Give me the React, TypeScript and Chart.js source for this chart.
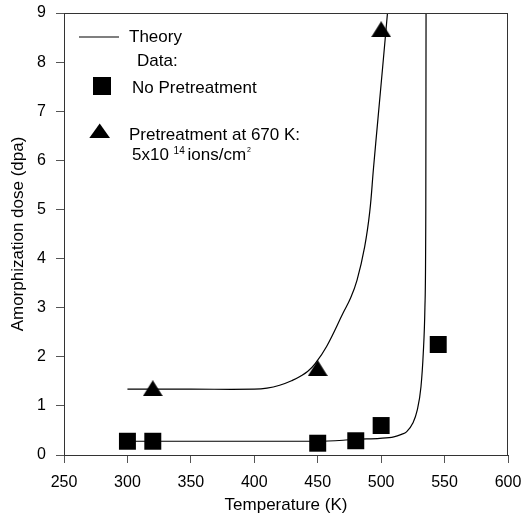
import React, { useEffect, useRef } from "react";
import { Chart, registerables } from "chart.js";

Chart.register(...registerables);

// ---- data ----
const xTickValues = [250, 300, 350, 400, 450, 500, 550, 600];
const yTickValues = [0, 1, 2, 3, 4, 5, 6, 7, 8, 9];

const noPretreatTemp = [300, 320, 450, 480, 500, 545];
const noPretreatDose = [0.28, 0.28, 0.24, 0.29, 0.6, 2.25];

const pretreatTemp = [320, 450, 500];
const pretreatDose = [1.36, 1.77, 8.67];

const theoryPreTemp = [300, 350, 400, 410, 420, 430, 436, 442, 448, 457, 470, 476, 481, 487, 491, 494, 497.5, 501.2, 505];
const theoryPreDose = [1.34, 1.34, 1.34, 1.36, 1.42, 1.52, 1.6, 1.7, 1.86, 2.21, 2.89, 3.2, 3.56, 4.24, 4.95, 5.85, 6.85, 7.9, 9.0];

const theoryNoPreTemp = [300, 350, 400, 450, 470, 480, 499, 510, 516, 520, 525, 528.5, 531.4, 533.2, 534.5, 535.2, 535.4];
const theoryNoPreDose = [0.28, 0.28, 0.28, 0.28, 0.3, 0.32, 0.34, 0.37, 0.42, 0.47, 0.65, 0.92, 1.39, 2.07, 3.0, 5.0, 9.0];

const legendLabels = ["Theory", "Data:", "No Pretreatment", "Pretreatment at 670 K:", "5x10", "14", "ions/cm", "2"];

const FONT = '"Liberation Sans", Arial, Helvetica, sans-serif';

function makeTriangle(w: number, h: number): HTMLCanvasElement {
  const c = document.createElement("canvas");
  c.width = w;
  c.height = h;
  const g = c.getContext("2d")!;
  g.fillStyle = "#000";
  g.beginPath();
  g.moveTo(w / 2, 0);
  g.lineTo(w, h);
  g.lineTo(0, h);
  g.closePath();
  g.fill();
  return c;
}

const toPts = (xs: number[], ys: number[]) => xs.map((x, i) => ({ x, y: ys[i] }));

const frameAndLegend = {
  id: "frameAndLegend",
  afterDraw(chart: any) {
    const { ctx, chartArea } = chart;
    const { left, top, right, bottom } = chartArea;
    ctx.save();
    // frame
    ctx.strokeStyle = "#333";
    ctx.lineWidth = 1;
    ctx.strokeRect(left + 0.5, top + 0.5, right - left - 1, bottom - top);

    // legend
    const L = left;
    const T = top;
    ctx.strokeStyle = "#000";
    ctx.lineWidth = 1.2;
    ctx.beginPath();
    ctx.moveTo(L + 15, T + 24);
    ctx.lineTo(L + 55, T + 24);
    ctx.stroke();

    ctx.fillStyle = "#000";
    ctx.textAlign = "left";
    ctx.textBaseline = "alphabetic";
    ctx.font = `17px ${FONT}`;
    ctx.fillText(legendLabels[0], L + 65, T + 29);
    ctx.fillText(legendLabels[1], L + 73, T + 53);
    // square marker
    ctx.fillRect(L + 29, T + 64, 18, 18);
    ctx.fillText(legendLabels[2], L + 68, T + 79.5);
    // triangle marker
    ctx.beginPath();
    ctx.moveTo(L + 35.7, T + 110.5);
    ctx.lineTo(L + 46, T + 125);
    ctx.lineTo(L + 25.3, T + 125);
    ctx.closePath();
    ctx.fill();
    ctx.fillText(legendLabels[3], L + 65, T + 126.5);
    ctx.fillText(legendLabels[4], L + 68, T + 146.5);
    const w5 = ctx.measureText(legendLabels[4] + " ").width;
    ctx.font = `10px ${FONT}`;
    ctx.fillText(legendLabels[5], L + 68 + w5, T + 141);
    const w14 = ctx.measureText(legendLabels[5] + " ").width;
    ctx.font = `17px ${FONT}`;
    ctx.fillText(legendLabels[6], L + 68 + w5 + w14, T + 146.5);
    const wi = ctx.measureText(legendLabels[6]).width;
    ctx.font = `7px ${FONT}`;
    ctx.fillText(legendLabels[7], L + 68 + w5 + w14 + wi + 1, T + 139);
    ctx.restore();
  },
};

export default function App() {
  const ref = useRef<HTMLCanvasElement | null>(null);

  useEffect(() => {
    document.body.style.margin = "0";
    const tri = makeTriangle(20, 16);
    const chart = new Chart(ref.current!, {
      type: "scatter",
      data: {
        datasets: [
          {
            label: "Pretreatment at 670 K",
            data: toPts(pretreatTemp, pretreatDose),
            pointStyle: tri as any,
            pointRadius: 10,
            backgroundColor: "#000",
            borderColor: "#000",
            showLine: false,
          },
          {
            label: "No Pretreatment",
            data: toPts(noPretreatTemp, noPretreatDose),
            pointStyle: "rect",
            pointRadius: 12,
            pointBorderWidth: 0,
            backgroundColor: "#000",
            borderColor: "#000",
            showLine: false,
          },
          {
            label: "Theory (pretreated)",
            data: toPts(theoryPreTemp, theoryPreDose),
            showLine: true,
            pointRadius: 0,
            borderColor: "#000",
            borderWidth: 1.2,
            tension: 0.4,
          },
          {
            label: "Theory (no pretreatment)",
            data: toPts(theoryNoPreTemp, theoryNoPreDose),
            showLine: true,
            pointRadius: 0,
            borderColor: "#000",
            borderWidth: 1.2,
            cubicInterpolationMode: "monotone",
          },
        ],
      },
      options: {
        animation: false,
        responsive: true,
        maintainAspectRatio: false,
        layout: { padding: { left: 0, right: 15, top: 13, bottom: 0 } },
        plugins: {
          legend: { display: false },
          tooltip: { enabled: false },
        },
        scales: {
          x: {
            type: "linear",
            min: 250,
            max: 600,
            afterBuildTicks: (s: any) => {
              s.ticks = xTickValues.map((v) => ({ value: v }));
            },
            afterFit: (s: any) => {
              s.height = 68;
              s.paddingLeft = 0;
              s.paddingRight = 0;
            },
            grid: {
              drawOnChartArea: false,
              drawTicks: true,
              tickLength: 8,
              color: "#555",
            },
            border: { display: true, color: "#333", width: 1 },
            ticks: {
              padding: 10,
              color: "#000",
              font: { family: FONT, size: 16 },
              maxRotation: 0,
            },
            title: {
              display: true,
              text: "Temperature (K)",
              color: "#000",
              font: { family: FONT, size: 17 },
              padding: { top: 0, bottom: 7 },
            },
          },
          y: {
            type: "linear",
            min: 0,
            max: 9,
            afterBuildTicks: (s: any) => {
              s.ticks = yTickValues.map((v) => ({ value: v }));
            },
            afterFit: (s: any) => {
              s.width = 64;
              s.paddingTop = 0;
              s.paddingBottom = 0;
            },
            grid: {
              drawOnChartArea: false,
              drawTicks: true,
              tickLength: 8,
              color: "#555",
            },
            border: { display: true, color: "#333", width: 1 },
            ticks: {
              padding: 10,
              color: "#000",
              font: { family: FONT, size: 16 },
            },
            title: {
              display: true,
              text: "Amorphization dose (dpa)",
              color: "#000",
              font: { family: FONT, size: 17 },
              padding: { top: 8, bottom: 0 },
            },
          },
        },
      },
      plugins: [frameAndLegend],
    });
    return () => chart.destroy();
  }, []);

  return (
    <div style={{ width: 523, height: 523, position: "relative" }}>
      <canvas ref={ref} />
    </div>
  );
}
